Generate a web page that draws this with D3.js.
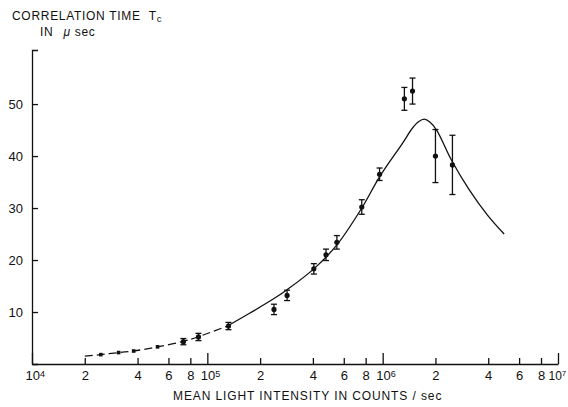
<!DOCTYPE html>
<html>
<head>
<meta charset="utf-8">
<script src="https://cdn.jsdelivr.net/npm/d3@7"></script>
<style>
  html, body { margin: 0; padding: 0; background: #fff; }
  svg { display: block; }
  text { font-family: "Liberation Sans", Arial, sans-serif; fill: #111; }
</style>
</head>
<body>
<svg id="chart" width="568" height="407"></svg>
<script>
// ---- data ----
// fitted curve: intensity (counts/sec), correlation time (µsec)
const curveDashedX = [2.0e4, 2.47e4, 3.12e4, 3.8e4, 5.2e4, 7.3e4, 8.9e4, 1.31e5];
const curveDashedY = [1.5, 1.8, 2.2, 2.5, 3.3, 4.35, 5.25, 7.35];
const curveSolidX = [1.31e5, 1.75e5, 2.4e5, 2.85e5, 4.05e5, 5.48e5, 7.6e5, 9.6e5, 1.3e6, 1.48e6, 1.6e6, 1.73e6, 1.85e6, 2.03e6, 2.47e6, 3.12e6, 3.95e6, 4.93e6];
const curveSolidY = [7.35, 9.8, 12.6, 14.3, 18.3, 22.9, 30.0, 36.0, 42.5, 45.4, 46.6, 47.1, 46.6, 45.0, 39.2, 33.5, 28.7, 25.0];

// measured points without visible error bars
const smallX = [2.47e4, 3.12e4, 3.8e4, 5.2e4];
const smallY = [1.8, 2.2, 2.5, 3.3];

// measured points with error bars
const ptX   = [7.3e4, 8.9e4, 1.32e5, 2.4e5, 2.85e5, 4.05e5, 4.75e5, 5.48e5, 7.6e5, 9.6e5, 1.33e6, 1.48e6, 2.0e6, 2.5e6];
const ptY   = [4.3, 5.2, 7.3, 10.5, 13.2, 18.3, 21.0, 23.4, 30.2, 36.5, 51.0, 52.5, 40.0, 38.3];
const ptErr = [0.6, 0.7, 0.7, 1.0, 1.0, 1.0, 1.1, 1.3, 1.4, 1.2, 2.2, 2.5, 5.1, 5.7];

// ticks
const xMajorTicks = [1e4, 1e5, 1e6, 1e7];
const xMajorExp = ["4", "5", "6", "7"];
const xMinorTicks = [2e4, 4e4, 6e4, 8e4, 2e5, 4e5, 6e5, 8e5, 2e6, 4e6, 6e6, 8e6];
const yTicks = [10, 20, 30, 40, 50];

// ---- drawing ----
const svg = d3.select("#chart");
const x = d3.scaleLog().domain([1e4, 1e7]).range([32, 558]);
const y = d3.scaleLinear().domain([0, 60.4]).range([364, 50]);
const FONT = "'Liberation Sans', Arial, sans-serif";

// y axis
const yAxis = d3.axisLeft(y).tickValues(yTicks).tickSizeInner(-6).tickSizeOuter(-6).tickPadding(9).tickFormat(d3.format("d"));
const gy = svg.append("g").attr("transform", "translate(32,0)").call(yAxis);
gy.selectAll("text").style("font-size", "13px").style("font-family", FONT).attr("fill", "#111");
gy.selectAll("path, line").attr("stroke", "#111").attr("stroke-width", 1.3);

// x axis - minor ticks with labels
const xMinor = d3.axisBottom(x).tickValues(xMinorTicks).tickSizeInner(-6).tickSizeOuter(0).tickPadding(7)
  .tickFormat(d => String(Math.round(d / Math.pow(10, Math.floor(Math.log10(d) + 1e-9)))));
const gx = svg.append("g").attr("transform", "translate(0,364)").call(xMinor);
gx.selectAll("text").style("font-size", "13px").style("font-family", FONT).attr("fill", "#111");
gx.selectAll("path, line").attr("stroke", "#111").attr("stroke-width", 1.3);

// x axis - major ticks (decades)
const xMajor = d3.axisBottom(x).tickValues(xMajorTicks).tickSizeInner(-11).tickSizeOuter(0).tickPadding(7).tickFormat(() => "");
const gx2 = svg.append("g").attr("transform", "translate(0,364)").call(xMajor);
gx2.select(".domain").remove();
gx2.selectAll("line").attr("stroke", "#111").attr("stroke-width", 1.3);
gx2.selectAll(".tick text").each(function(d, i) {
  const last = i === xMajorTicks.length - 1;
  const t = d3.select(this).attr("text-anchor", "start").attr("x", last ? -10 : -7)
    .style("font-size", last ? "12px" : "13px").style("font-family", FONT).attr("fill", "#111");
  t.append("tspan").text("10");
  t.append("tspan").attr("dy", "-0.4em").style("font-size", last ? "8px" : "9px").text(xMajorExp[i]);
});

// curve
const line = d3.line().x(d => x(d[0])).y(d => y(d[1])).curve(d3.curveCatmullRom.alpha(0.5));
svg.append("path")
  .datum(d3.zip(curveDashedX, curveDashedY))
  .attr("d", line).attr("fill", "none").attr("stroke", "#111").attr("stroke-width", 1.3)
  .attr("stroke-dasharray", "8,4");
svg.append("path")
  .datum(d3.zip(curveSolidX, curveSolidY))
  .attr("d", line).attr("fill", "none").attr("stroke", "#111").attr("stroke-width", 1.3);

// small points
svg.append("g").selectAll("rect").data(d3.zip(smallX, smallY)).join("rect")
  .attr("x", d => x(d[0]) - 1.8).attr("y", d => y(d[1]) - 1.8)
  .attr("width", 3.6).attr("height", 3.6).attr("fill", "#111");

// error bar points
const pts = d3.zip(ptX, ptY, ptErr);
const ge = svg.append("g").attr("stroke", "#111").attr("stroke-width", 1.3);
ge.selectAll("line.v").data(pts).join("line").attr("class", "v")
  .attr("x1", d => x(d[0])).attr("x2", d => x(d[0]))
  .attr("y1", d => y(d[1] - d[2])).attr("y2", d => y(d[1] + d[2]));
ge.selectAll("line.t").data(pts).join("line").attr("class", "t")
  .attr("x1", d => x(d[0]) - 3).attr("x2", d => x(d[0]) + 3)
  .attr("y1", d => y(d[1] + d[2])).attr("y2", d => y(d[1] + d[2]));
ge.selectAll("line.b").data(pts).join("line").attr("class", "b")
  .attr("x1", d => x(d[0]) - 3).attr("x2", d => x(d[0]) + 3)
  .attr("y1", d => y(d[1] - d[2])).attr("y2", d => y(d[1] - d[2]));
svg.append("g").selectAll("circle").data(pts).join("circle")
  .attr("cx", d => x(d[0])).attr("cy", d => y(d[1])).attr("r", 2.6).attr("fill", "#111");

// titles
const t1 = svg.append("text").attr("x", 12).attr("y", 20).style("font-size", "12px").style("letter-spacing", "0.7px");
t1.append("tspan").text("CORRELATION TIME");
t1.append("tspan").attr("dx", 8).text("T");
t1.append("tspan").attr("dy", "0.25em").style("font-size", "9.5px").text("c");
const t2 = svg.append("text").attr("x", 40).attr("y", 36).style("font-size", "12px").style("letter-spacing", "0.7px");
t2.append("tspan").text("IN");
t2.append("tspan").attr("dx", 10).style("font-style", "italic").text("μ");
t2.append("tspan").attr("dx", 4).text("sec");

svg.append("text").attr("x", 173).attr("y", 400).style("font-size", "12px").style("letter-spacing", "0.9px")
  .text("MEAN LIGHT INTENSITY IN COUNTS / sec");
</script>
</body>
</html>
